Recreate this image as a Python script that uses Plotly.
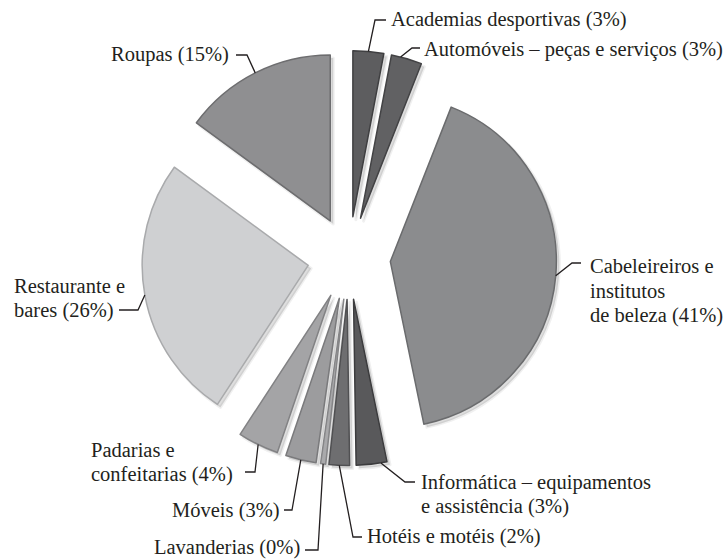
import math
import plotly.graph_objects as go

# slice data, clockwise from 12 o'clock
categories = [
    "Academias desportivas",
    "Automóveis – peças e serviços",
    "Cabeleireiros e institutos de beleza",
    "Informática – equipamentos e assistência",
    "Hotéis e motéis",
    "Lavanderias",
    "Móveis",
    "Padarias e confeitarias",
    "Restaurante e bares",
    "Roupas",
]
shares = [3, 3, 41, 3, 2, 0.5, 3, 4, 26, 15]
label_lines = [
    ["Academias desportivas (3%)"],
    ["Automóveis – peças e serviços (3%)"],
    ["Cabeleireiros e", "institutos", "de beleza (41%)"],
    ["Informática – equipamentos", "e assistência (3%)"],
    ["Hotéis e motéis (2%)"],
    ["Lavanderias (0%)"],
    ["Móveis (3%)"],
    ["Padarias e", "confeitarias (4%)"],
    ["Restaurante e", "bares (26%)"],
    ["Roupas (15%)"],
]

# styling
fills = ["#5d5d5f", "#616163", "#8b8c8e", "#59595b", "#6e6e70",
         "#a9a9ab", "#9c9c9e", "#a4a4a6", "#cfd0d2", "#8f8f91"]
edges = ["#3f3f41", "#434345", "#6a6b6d", "#3c3c3e", "#505052",
         "#858587", "#7a7a7c", "#828284", "#a9aaac", "#6d6d6f"]

W, H = 723, 560
CX, CY = 349, 258       # pie centre in px
R = 166                 # slice radius in px
PULL = 0.25
HALF = R * (1 + PULL)

# label placement: text x, first line y, anchor, elbow, end, where on the arc
placement = [
    (389, 20, "left", (375, 20), (386, 20), 0.5),
    (422, 49, "left", (412, 48), (420, 48), 0.3),
    (588, 266, "left", (572, 263), (581, 263), 0.5),
    (419, 482, "left", (405, 482), (415, 482), 0.2),
    (365, 536, "left", (353, 537), (362, 537), 0.5),
    (302, 547, "right", (318, 550), (305, 550), 0.5),
    (282, 510, "right", (292, 510), (284, 510), 0.5),
    (89, 450, "left", (255, 472), (245, 472), 0.5),
    (12, 286, "left", (138, 310), (119, 310), 0.5),
    (231, 55, "right", (247, 55), (236, 55), 0.5),
]
LINE_GAP = 24.5


def px(x):
    return x / W


def py(y):
    return 1 - y / H


domain = dict(x=[px(CX - HALF), px(CX + HALF)], y=[py(CY + HALF), py(CY - HALF)])
shadow_domain = dict(x=[px(CX - HALF + 3), px(CX + HALF + 3)],
                     y=[py(CY + HALF + 3), py(CY - HALF + 3)])

fig = go.Figure()
fig.add_trace(go.Pie(
    labels=categories, values=shares, sort=False, direction="clockwise",
    rotation=0, pull=[PULL] * len(shares), domain=shadow_domain,
    marker=dict(colors=["rgba(0,0,0,0.13)"] * len(shares),
                line=dict(color="rgba(0,0,0,0.06)", width=3)),
    textinfo="none", hoverinfo="skip", showlegend=False,
))
fig.add_trace(go.Pie(
    labels=categories, values=shares, sort=False, direction="clockwise",
    rotation=0, pull=[PULL] * len(shares), domain=domain,
    marker=dict(colors=fills, line=dict(color=edges, width=1.5)),
    textinfo="none", hoverinfo="label+percent", showlegend=False,
))

total = sum(shares)
acc = 0
for v, lines, (tx, ty, anchor, elbow, end, frac) in zip(shares, label_lines, placement):
    a0 = acc / total * 360
    a1 = (acc + v) / total * 360
    acc += v
    mid = math.radians((a0 + a1) / 2)
    tipx = CX + PULL * R * math.sin(mid)
    tipy = CY - PULL * R * math.cos(mid)
    ang = math.radians(a0 + frac * (a1 - a0))
    sx = tipx + R * math.sin(ang)
    sy = tipy - R * math.cos(ang)
    path = "M {} {} L {} {} L {} {}".format(
        px(sx), py(sy), px(elbow[0]), py(elbow[1]), px(end[0]), py(end[1]))
    fig.add_shape(type="path", path=path, xref="paper", yref="paper",
                  line=dict(color="#231f20", width=1.3))
    for k, line in enumerate(lines):
        fig.add_annotation(
            x=px(tx), y=py(ty + k * LINE_GAP), xref="paper", yref="paper",
            text=line, showarrow=False, xanchor=anchor, yanchor="middle",
            font=dict(family="Liberation Serif, DejaVu Serif, serif",
                      size=20.5, color="#231f20"),
        )

fig.update_layout(
    width=W, height=H,
    margin=dict(l=0, r=0, t=0, b=0),
    paper_bgcolor="white", plot_bgcolor="white",
)

# drop the browser's default body margin so the figure sits at the page corner
fig.write_html("out.html", config={"displayModeBar": False},
               post_script="document.body.style.margin='0';")
